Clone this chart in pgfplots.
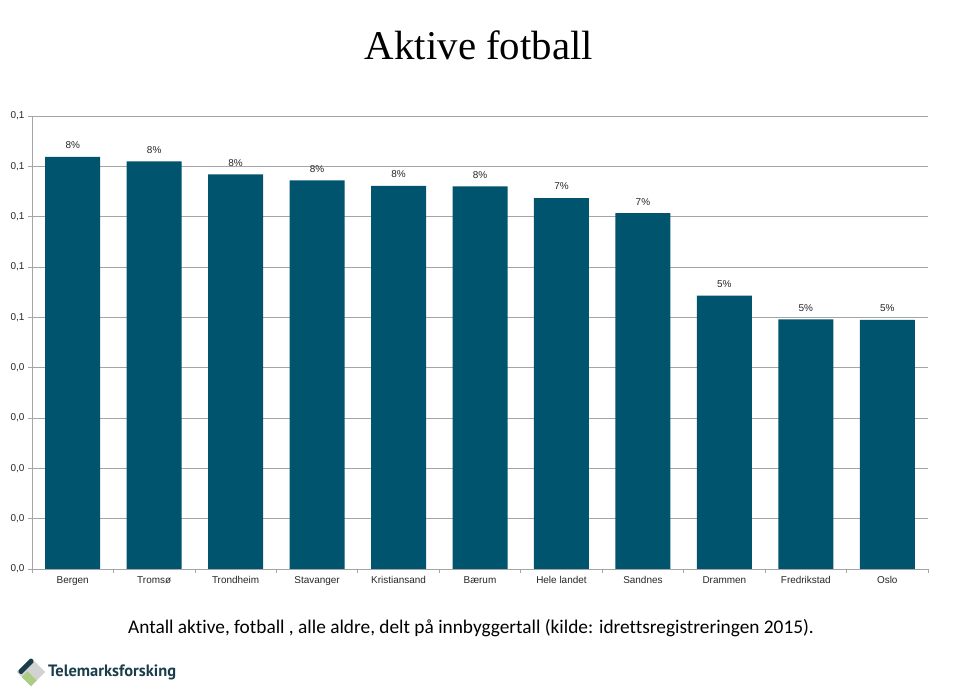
\documentclass[border=0pt]{standalone}
\usepackage{fontspec}
\setmainfont{Liberation Sans}
\newfontfamily\titlefont{Liberation Serif}
\newfontfamily\capfont[Ligatures=NoCommon]{Carlito}
\newfontfamily\logofont{PT Sans}
\usepackage{pgfplots}
\pgfplotsset{compat=1.18}
\definecolor{barcol}{RGB}{0,84,110}
\definecolor{gridgray}{RGB}{165,165,165}
\definecolor{logoblue}{RGB}{26,61,76}
\definecolor{logogreen}{RGB}{170,205,130}
\begin{document}
\begin{tikzpicture}[x=1bp,y=1bp]
\useasboundingbox (0,0) rectangle (959,691);
\begin{axis}[
  at={(32bp,122bp)}, anchor=south west, scale only axis,
  width=896bp, height=453bp,
  xmin=-0.5, xmax=10.5, ymin=0, ymax=0.09,
  axis x line*=bottom, axis y line*=left,
  axis line style={gridgray, line width=0.8pt, -},
  ymajorgrids, grid style={gridgray, line width=0.8pt},
  scaled y ticks=false,
  ytick={0,0.01,0.02,0.03,0.04,0.05,0.06,0.07,0.08,0.09},
  yticklabels={{0,0},{0,0},{0,0},{0,0},{0,0},{0,1},{0,1},{0,1},{0,1},{0,1}},
  xtick={0,1,2,3,4,5,6,7,8,9,10},
  xticklabels={Bergen,Tromsø,Trondheim,Stavanger,Kristiansand,Bærum,Hele landet,Sandnes,Drammen,Fredrikstad,Oslo},
  minor xtick={-0.5,0.5,1.5,2.5,3.5,4.5,5.5,6.5,7.5,8.5,9.5,10.5},
  major x tick style={draw=none},
  tick style={gridgray, line width=0.8pt},
  tick align=outside, major tick length=4bp, minor tick length=4bp,
  tick label style={font=\fontsize{10}{12}\selectfont, text=black!85},
  /pgf/number format/assume math mode=true,
]
\addplot[ybar, bar width=55bp, fill=barcol, draw=none,
  point meta={y*100},
  nodes near coords={\pgfmathprintnumber[fixed,precision=0]{\pgfplotspointmeta}\%},
  every node near coord/.append style={font=\fontsize{10}{12}\selectfont, text=black!85, anchor=south, yshift=4.5bp}]
coordinates {
 (0,0.0819) (1,0.0810) (2,0.0784) (3,0.0772) (4,0.0761) (5,0.0760)
 (6,0.0737) (7,0.0707) (8,0.0543) (9,0.0496) (10,0.0495)
};
\end{axis}
\node[font=\titlefont\fontsize{41}{49}\selectfont] at (479,646) {Aktive fotball};
\node[font=\capfont\fontsize{19.4}{23}\selectfont] at (471,63) {Antall aktive, fotball , alle aldre, delt på innbyggertall (kilde: idrettsregistreringen 2015).};
% logo
\begin{scope}[shift={(31,19)}, rotate=45]
  \fill[gray!35] (-10,-10) rectangle (10,10);
  \fill[logogreen] (-10,-10) rectangle (-2,3);
  \fill[logoblue, rounded corners=1.5] (-9,5) rectangle (10,10);
\end{scope}
\node[anchor=west, font=\logofont\bfseries\fontsize{16.5}{20}\selectfont, text=logoblue, inner sep=0] at (48,19) {Telemarksforsking};
\end{tikzpicture}
\end{document}
